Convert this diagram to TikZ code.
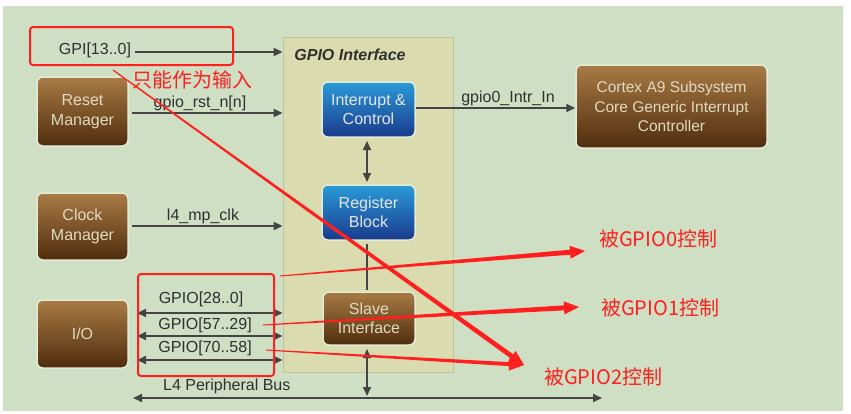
\documentclass[tikz,border=0pt]{standalone}
\usepackage{fontspec}
\setmainfont{Liberation Sans}
\newfontfamily\cjk{Noto Sans CJK SC}
\usetikzlibrary{arrows.meta,calc}
\definecolor{bg}{HTML}{CFDFC4}
\definecolor{panelfill}{HTML}{DADCB0}
\definecolor{paneldraw}{HTML}{BFC39B}
\definecolor{browntop}{HTML}{A97B45}
\definecolor{brownbot}{HTML}{4F2D0D}
\definecolor{bluetop}{HTML}{2A9BD8}
\definecolor{bluebot}{HTML}{1A3A8C}
\definecolor{glow}{HTML}{E4EAD6}
\definecolor{wire}{HTML}{444444}
\definecolor{label}{HTML}{303030}
\definecolor{annot}{HTML}{FF1F1F}
\newcommand\redarrow[4]{%
  \coordinate (ra-c) at ($(#2)!15pt!(#1)$);
  \fill[annot] ($(#1)!#3!90:(#2)$) -- ($(ra-c)!#4!-90:(#1)$) -- ($(ra-c)!6.5pt!-90:(#1)$) -- (#2)
    -- ($(ra-c)!6.5pt!90:(#1)$) -- ($(ra-c)!#4!90:(#1)$) -- ($(#1)!#3!-90:(#2)$) -- cycle;
}
\tikzset{
  txt/.style={font=\fontsize{16}{19.5}\selectfont},
  brownbox/.style={txt, rounded corners=6pt, top color=browntop, bottom color=brownbot,
    draw=glow, line width=1.5pt, text=glow!85!brown, align=center, inner sep=0pt},
  bluebox/.style={txt, rounded corners=6pt, top color=bluetop, bottom color=bluebot,
    draw=glow, line width=1.5pt, text=blue!10!white, align=center, inner sep=0pt},
  lbl/.style={txt, text=label, inner sep=0pt},
  wirearrow/.style={draw=wire, line width=1.8pt, -{Triangle[length=9pt,width=8pt]}},
  wiredouble/.style={draw=wire, line width=1.8pt, {Triangle[length=9pt,width=8pt]}-{Triangle[length=9pt,width=8pt]}},
  redbox/.style={draw=annot, line width=2pt, rounded corners=3pt},
  cn/.style={font=\cjk\fontsize{20}{24}\selectfont, text=annot, inner sep=0pt},
}
\begin{document}
\begin{tikzpicture}[x=1pt,y=-1pt]
\useasboundingbox (0,0) rectangle (851,413);
\fill[white] (0,0) rectangle (851,413);
\fill[bg] (3,6) rectangle (843,411);

% GPIO interface panel
\node[draw=paneldraw, fill=panelfill, line width=0.8pt, minimum width=170pt, minimum height=335pt, inner sep=0pt] (panel) at (368,204.5) {};
\node[txt, font=\fontsize{16}{19.5}\selectfont\bfseries\itshape, text=label, inner sep=0pt] (ptitle) at (350,55) {GPIO Interface};

% blocks
\node[bluebox, minimum width=93pt, minimum height=55pt] (intr) at (368.5,109.5) {Interrupt \&\\Control};
\node[bluebox, minimum width=93pt, minimum height=55pt] (reg) at (368.5,212.5) {Register\\Block};
\node[brownbox, minimum width=92pt, minimum height=53pt] (slave) at (369,318.5) {Slave\\Interface};

\node[brownbox, minimum width=91pt, minimum height=69pt] (reset) at (82.5,111.5) {Reset\\Manager};
\node[brownbox, minimum width=91pt, minimum height=67pt] (clock) at (82.5,226.5) {Clock\\Manager};
\node[brownbox, minimum width=91pt, minimum height=68pt] (io) at (82.5,334) {I/O};
\node[brownbox, font=\fontsize{15.5}{19.5}\selectfont, minimum width=191pt, minimum height=83pt] (cortex) at (671.5,106.5) {Cortex A9 Subsystem\\Core Generic Interrupt\\Controller};

% GPI input
\node[lbl] (gpi) at (95,50) {GPI[13..0]};
\coordinate (gpis) at (135,52);
\draw[wirearrow] (gpis) -- (gpis -| panel.west);

% reset / clock
\node[lbl] (rstl) at (200,103) {gpio\_rst\_n[n]};
\coordinate (rsts) at (132,113);
\draw[wirearrow] (rsts) -- (rsts -| panel.west);
\node[lbl] (clkl) at (203,216) {l4\_mp\_clk};
\coordinate (clks) at (132,226);
\draw[wirearrow] (clks) -- (clks -| panel.west);

% interrupt out
\node[lbl] (intl) at (508,98) {gpio0\_Intr\_In};
\coordinate (ints) at (416,108);
\draw[wirearrow] (ints) -- (ints -| cortex.west);

% internal connections
\coordinate (ia) at (367,141);
\coordinate (ib) at (367,182);
\draw[wiredouble] (ia) -- (ib);
\coordinate (ra) at (367,244);
\coordinate (rb) at (367,290);
\draw[draw=wire, line width=1.5pt] (ra) -- (rb);

% GPIO lines
\foreach \y/\n in {313/a,336/b,360/c} {
  \coordinate (gl\n) at (137,\y);
  \draw[wiredouble] (gl\n) -- (gl\n -| panel.west);
}
\node[lbl] (g0) at (201,299) {GPIO[28..0]};
\node[lbl] (g1) at (205,325) {GPIO[57..29]};
\node[lbl] (g2) at (205,348) {GPIO[70..58]};

% L4 peripheral bus
\coordinate (busl) at (133,398);
\coordinate (busr) at (602,398);
\draw[wiredouble] (busl) -- (busr);
\node[lbl, anchor=west] (busLabel) at (163,386) {L4 Peripheral Bus};
\coordinate (sb) at (367,349);
\coordinate (se) at (367,396);
\draw[wiredouble] (sb) -- (se);

% red annotations
\draw[redbox] (30,27) rectangle (233,65);
\draw[redbox] (138,274) rectangle (274,376);
\node[cn, anchor=west] (only) at (132,80) {只能作为输入};
\node[cn, anchor=west] (c0) at (599,239) {被GPIO0控制};
\node[cn, anchor=west] (c1) at (601,308) {被GPIO1控制};
\node[cn, anchor=west] (c2) at (544,377) {被GPIO2控制};

\coordinate (s0) at (280,276);
\coordinate (t0) at (585,251);
\coordinate (s1) at (263,325);
\coordinate (t1) at (579,307);
\coordinate (s2) at (266,350);
\coordinate (t2) at (524,365);
\coordinate (sd) at (113,70);
\redarrow{s0}{t0}{0.5pt}{2.5pt}
\redarrow{s1}{t1}{0.5pt}{2.5pt}
\redarrow{s2}{t2}{0.5pt}{2pt}
\redarrow{sd}{t2}{0.6pt}{2.4pt}
\end{tikzpicture}
\end{document}
